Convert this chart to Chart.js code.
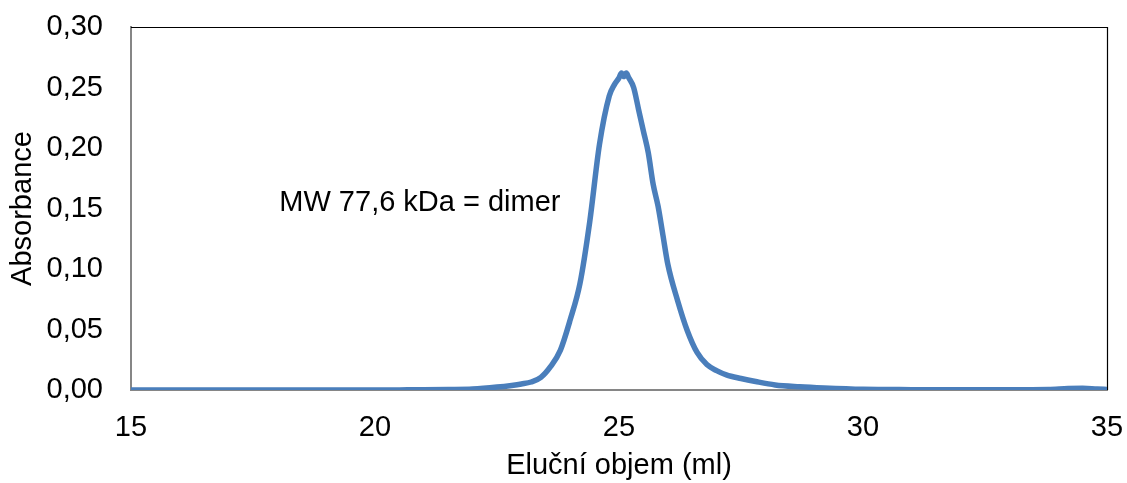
<!DOCTYPE html>
<html>
<head>
<meta charset="utf-8">
<title>Absorbance</title>
<script src="https://cdn.jsdelivr.net/npm/chart.js@4/dist/chart.umd.min.js"></script>
<style>
    html, body { margin: 0; padding: 0; background: #ffffff; }
    #wrap { width: 1127px; height: 483px; }
</style>
</head>
<body>
<div id="wrap"><canvas id="sizeChart" width="1127" height="483"></canvas></div>
<script>
'use strict';

// elution volume (ml) and absorbance
var volumes = [15, 16, 17, 18, 19, 20, 20.5, 21, 21.5, 22, 22.5, 22.8, 23.0, 23.2, 23.4, 23.6, 23.8,
    24.0, 24.2, 24.4, 24.6, 24.8, 24.9, 25.0, 25.05, 25.1, 25.15, 25.2, 25.3, 25.4, 25.5, 25.6, 25.7,
    25.8, 25.9, 26.0, 26.2, 26.4, 26.6, 26.8, 27.0, 27.2, 27.5, 27.8, 28.2, 28.7, 29.2, 30, 31, 32,
    33, 33.8, 34.2, 34.5, 34.8, 35];
var absorbance = [0, 0, 0, 0, 0, 0, 0.0001, 0.0002, 0.0004, 0.0008, 0.0024, 0.0038, 0.0050, 0.0066,
    0.0105, 0.0195, 0.033, 0.058, 0.088, 0.139, 0.203, 0.243, 0.252, 0.258, 0.262, 0.259, 0.262, 0.258,
    0.250, 0.232, 0.214, 0.196, 0.170, 0.152, 0.128, 0.104, 0.074, 0.049, 0.031, 0.021, 0.016, 0.0125,
    0.0095, 0.007, 0.0042, 0.0027, 0.0017, 0.0006, 0.0003, 0.0002, 0.0002, 0.0004, 0.0012, 0.0014,
    0.0008, 0.0005];

var xTitle = 'Eluční objem (ml)';
var yTitle = 'Absorbance';
var noteText = 'MW 77,6 kDa = dimer';
var noteAt = [20.92, 0.1545];

var fontFamily = '"Liberation Sans", Arial, sans-serif';
var fontSize = 29;

function buildPoints() {
    var points = [];
    for (var i = 0; i < volumes.length; i++) {
        points[i] = { x: volumes[i], y: absorbance[i] };
    }
    return points;
}

// top and right frame lines plus the label in the plot
var framePlugin = {
    id: 'frame',
    beforeDatasetsDraw: function (chart) {
        var ctx = chart.ctx;
        var a = chart.chartArea;
        ctx.save();
        ctx.strokeStyle = '#000000';
        ctx.lineWidth = 1.2;
        ctx.beginPath();
        ctx.moveTo(a.left, a.top + 0.5);
        ctx.lineTo(a.right + 0.5, a.top + 0.5);
        ctx.lineTo(a.right + 0.5, a.bottom);
        ctx.stroke();
        ctx.restore();
    },
    afterDatasetsDraw: function (chart) {
        var ctx = chart.ctx;
        var x = chart.scales.x.getPixelForValue(noteAt[0]);
        var y = chart.scales.y.getPixelForValue(noteAt[1]);
        ctx.save();
        ctx.font = fontSize + 'px ' + fontFamily;
        ctx.fillStyle = '#000000';
        ctx.textAlign = 'center';
        ctx.textBaseline = 'middle';
        ctx.fillText(noteText, x, y);
        ctx.restore();
    }
};

var ctx = document.getElementById('sizeChart').getContext('2d');

var chart = new Chart(ctx, {
    type: 'scatter',
    data: {
        datasets: [{
            data: buildPoints(),
            showLine: true,
            borderColor: '#4a7ebb',
            borderWidth: 5.5,
            pointRadius: 0,
            cubicInterpolationMode: 'monotone',
            fill: false
        }]
    },
    options: {
        responsive: false,
        animation: false,
        events: [],
        layout: { padding: { top: 27, right: 20, left: 0, bottom: 0 } },
        plugins: {
            legend: { display: false },
            tooltip: { enabled: false }
        },
        scales: {
            x: {
                type: 'linear',
                min: 15,
                max: 35,
                grid: { display: false, drawTicks: false },
                border: { display: true, color: '#868686', width: 2 },
                ticks: {
                    stepSize: 5,
                    padding: 21,
                    color: '#000000',
                    font: { family: fontFamily, size: fontSize }
                },
                title: {
                    display: true,
                    text: xTitle,
                    color: '#000000',
                    padding: { top: 0, bottom: 0 },
                    font: { family: fontFamily, size: fontSize }
                },
                afterFit: function (scale) {
                    scale.height = 93;
                    scale.paddingLeft = 0;
                    scale.paddingRight = 0;
                }
            },
            y: {
                min: 0,
                max: 0.3,
                grid: { display: false, drawTicks: false },
                border: { display: true, color: '#868686', width: 2 },
                ticks: {
                    stepSize: 0.05,
                    padding: 28,
                    color: '#000000',
                    font: { family: fontFamily, size: fontSize },
                    callback: function (value) {
                        return Number(value).toFixed(2).replace('.', ',');
                    }
                },
                title: {
                    display: true,
                    text: yTitle,
                    color: '#000000',
                    padding: { top: 6, bottom: 0 },
                    font: { family: fontFamily, size: fontSize }
                },
                afterFit: function (scale) {
                    scale.width = 131;
                    scale.paddingTop = 0;
                    scale.paddingBottom = 0;
                }
            }
        }
    },
    plugins: [framePlugin]
});
</script>
</body>
</html>
